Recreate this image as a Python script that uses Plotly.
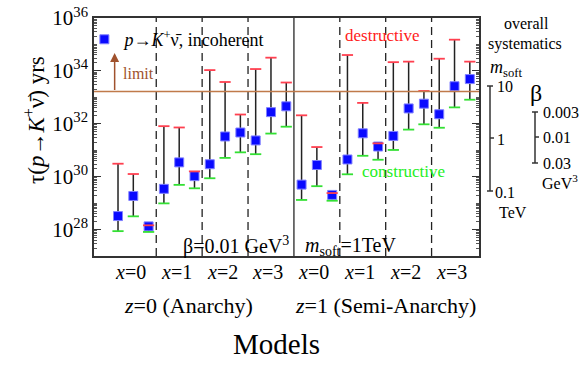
import numpy as np
import plotly.graph_objects as go

# ---- data (log10 of lifetime in years) ----
groups = ["x=0", "x=1", "x=2", "x=3"]
models = ["z=0 (Anarchy)", "z=1 (Semi-Anarchy)"]
center = [28.51, 29.27, 28.12, 29.54, 30.54, 30.02, 30.47, 31.52, 31.67, 31.37, 32.44, 32.66,
          29.70, 30.44, 29.31, 30.65, 31.64, 31.14, 31.54, 32.58, 32.76, 32.36, 33.42, 33.69]
upper = [30.49, 30.10, 28.16, 31.91, 31.86, 30.20, 34.03, 33.58, 32.35, 34.07, 34.50, 33.56,
         32.32, 31.12, 29.38, 34.60, 32.79, 31.26, 34.33, 34.35, 33.24, 34.46, 35.18, 34.35]
lower = [27.94, 28.50, 27.91, 28.99, 29.69, 29.56, 29.94, 30.71, 30.92, 30.85, 31.63, 31.89,
         29.12, 29.64, 29.09, 30.09, 30.79, 30.64, 31.01, 31.78, 31.98, 31.85, 32.62, 32.91]
limit_log = 33.22
ytick_exp = [28, 30, 32, 34, 36]

SERIF = "Liberation Serif, Times New Roman, serif"
W, H = 581, 366
L, R, T, B = 94, 479, 18, 256


def px(xp):
    return (xp - L) / (R - L)


def py(yp):
    return (B - yp) / (B - T)


xs = np.arange(len(center))
yc = 10.0 ** np.array(center)
yu = 10.0 ** np.array(upper)
yl = 10.0 ** np.array(lower)

fig = go.Figure()
fig.add_trace(go.Scatter(
    x=xs, y=yc, mode="markers",
    name="<i>p</i>→<i>K</i><sup>+</sup>ν̄, incoherent",
    marker=dict(symbol="square", size=9, color="#0a0aff", line=dict(color="#8080ff", width=1)),
    error_y=dict(type="data", symmetric=False, array=yu - yc, arrayminus=yc - yl,
                 color="#222222", thickness=1.5, width=0),
    showlegend=True,
))
fig.add_trace(go.Scatter(
    x=xs, y=yu, mode="markers", showlegend=False,
    marker=dict(symbol="line-ew", size=8, line=dict(color="#ff4050", width=1.8)),
))
fig.add_trace(go.Scatter(
    x=xs, y=yl, mode="markers", showlegend=False,
    marker=dict(symbol="line-ew", size=8, line=dict(color="#33e033", width=1.8)),
))

shapes = []
# group separators
for k in range(1, 8):
    xb = 3 * k - 0.5
    if k == 4:
        shapes.append(dict(type="line", xref="x", yref="paper", x0=xb, x1=xb, y0=0, y1=1,
                           line=dict(color="#444444", width=1.5)))
    else:
        shapes.append(dict(type="line", xref="x", yref="paper", x0=xb, x1=xb, y0=0, y1=1,
                           line=dict(color="#222222", width=1.3, dash="8px,5px")))
# limit line
shapes.append(dict(type="line", xref="paper", yref="y", x0=0, x1=1, y0=10.0 ** limit_log, y1=10.0 ** limit_log,
                   line=dict(color="#c07a4a", width=1.5)))


def seg(x0, y0, x1, y1, w=1.5, c="#333333"):
    shapes.append(dict(type="line", xref="paper", yref="paper", x0=px(x0), x1=px(x1), y0=py(y0), y1=py(y1),
                       line=dict(color=c, width=w)))


# systematics scale bars (right side)
seg(490, 86, 490, 191)
seg(487, 86, 493, 86)
seg(490, 138, 494, 138)
seg(487, 191, 493, 191)
seg(535, 112, 535, 163)
seg(532, 112, 538, 112)
seg(535, 137, 539, 137)
seg(532, 163, 538, 163)

ann = []


def text(xp, yp, s, size, color="black", xanchor="center", yanchor="middle", angle=0):
    ann.append(dict(x=px(xp), y=py(yp), xref="paper", yref="paper", text=s, showarrow=False,
                    font=dict(family=SERIF, size=size, color=color), xanchor=xanchor, yanchor=yanchor,
                    textangle=angle))


# group labels
for m in range(2):
    for g, lab in enumerate(groups):
        idx = m * 12 + g * 3 + 1
        ann.append(dict(x=idx - 0.2, y=py(272), xref="x", yref="paper", xanchor="center", yanchor="middle",
                        text="<i>x</i>=" + lab.split("=")[1], showarrow=False,
                        font=dict(family=SERIF, size=20, color="black")))
text(188, 305, "<i>z</i>=" + models[0].split("=")[1], 22)
text(385, 305, "<i>z</i>=" + models[1].split("=")[1], 22)

text(276, 344, "Models", 29)
text(34, 120, "τ(<i>p</i>→<i>K</i><sup>+</sup>ν̄) yrs", 23, angle=-90)
text(236, 245, "β=0.01 GeV<sup>3</sup>", 20)
text(350, 246, "<i>m</i><sub>soft</sub>=1TeV", 20)
text(382, 36, "destructive", 17, color="#ff2020")
text(403, 172, "constructive", 17, color="#22ee22")
text(121, 73, "limit", 16, color="#a0522d", xanchor="left")

text(526, 23, "overall", 16)
text(525, 44, "systematics", 16)
text(506, 68, "<i>m</i><sub>soft</sub>", 18)
text(495, 86, "10", 16, xanchor="left")
text(495, 139, "1", 16, xanchor="left")
text(493, 192, "0.1", 16, xanchor="left")
text(513, 212, "TeV", 16)
text(536, 93, "β", 24)
text(541, 112, "0.003", 16, xanchor="left")
text(541, 137, "0.01", 16, xanchor="left")
text(541, 163, "0.03", 16, xanchor="left")
text(560, 182, "GeV<sup>3</sup>", 16)

# arrow up from the limit line
ann.append(dict(x=-0.22, y=34.68, xref="x", yref="y", ax=-0.22, ay=limit_log, axref="x", ayref="y",
                text="", showarrow=True, arrowhead=2, arrowsize=1.2, arrowwidth=1.5, arrowcolor="#a0522d"))

fig.update_layout(
    width=W, height=H,
    margin=dict(l=L, r=W - R, t=T, b=H - B, autoexpand=False),
    plot_bgcolor="white", paper_bgcolor="white",
    font=dict(family=SERIF, size=17, color="black"),
    shapes=shapes, annotations=ann,
    legend=dict(x=-0.025, y=0.987, xanchor="left", yanchor="top", bgcolor="rgba(0,0,0,0)",
                font=dict(family=SERIF, size=18), itemwidth=30, tracegroupgap=0),
)
fig.update_xaxes(range=[-1.57, 23.6], showticklabels=False, ticks="", showgrid=False, zeroline=False,
                 showline=True, linecolor="#333333", linewidth=1.5, mirror=True, automargin=False)
fig.update_yaxes(type="log", range=[27.0, 36.0], showgrid=False, zeroline=False, automargin=False,
                 tickvals=[10.0 ** e for e in ytick_exp], ticktext=["10<sup>%d</sup>" % e for e in ytick_exp],
                 ticks="inside", ticklen=7, tickwidth=1.2, tickcolor="#333333",
                 minor=dict(ticks="inside", ticklen=3, tickcolor="#555555", dtick="D1", showgrid=False),
                 tickfont=dict(family=SERIF, size=21),
                 showline=True, linecolor="#333333", linewidth=1.5, mirror="allticks")

fig.write_html("out.html", config={"displayModeBar": False},
               post_script="document.body.style.margin='0px';")
